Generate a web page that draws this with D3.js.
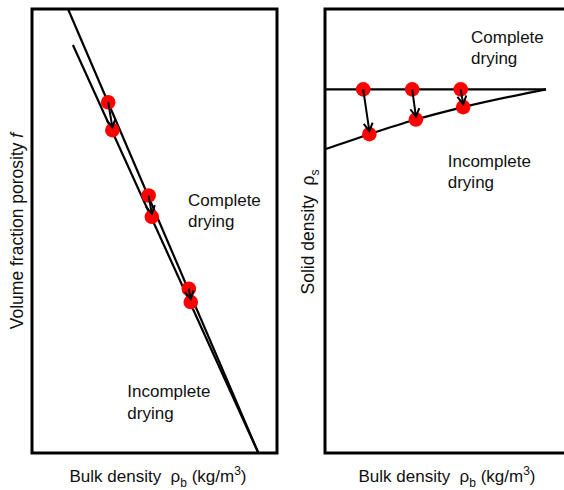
<!DOCTYPE html>
<html>
<head>
<meta charset="utf-8">
<script src="https://cdnjs.cloudflare.com/ajax/libs/d3/7.8.5/d3.min.js"></script>
<style>
  body { margin: 0; background: #fff; }
  text { font-family: "Liberation Sans", Arial, sans-serif; fill: #111; }
</style>
</head>
<body>
<div id="chart"></div>
<script>
// schematic units: 0..1 on both axes of each panel

// left panel: porosity vs bulk density
var leftComplete = [[0.147, 1.0], [0.924, 0]];
var leftIncomplete = [[0.167, 0.919], [0.924, 0]];
var leftStart = [[0.311, 0.790], [0.476, 0.580], [0.640, 0.370]];
var leftEnd = [[0.328, 0.727], [0.489, 0.532], [0.648, 0.340]];

// right panel: solid density vs bulk density
var rightComplete = [[0, 0.819], [0.902, 0.819]];
var rightIncomplete = [[0, 0.684], [0.181, 0.718], [0.371, 0.751], [0.564, 0.779], [0.902, 0.819]];
var rightStart = [[0.156, 0.819], [0.356, 0.819], [0.554, 0.819]];
var rightEnd = [[0.181, 0.718], [0.371, 0.751], [0.564, 0.779]];

var W = 564, H = 490;
var NB = '\u00a0';
var svg = d3.select('#chart').append('svg')
  .attr('width', W)
  .attr('height', H);

svg.append('defs').append('marker')
  .attr('id', 'arrow')
  .attr('markerUnits', 'userSpaceOnUse')
  .attr('viewBox', '-10 -6 12 12')
  .attr('markerWidth', 12)
  .attr('markerHeight', 12)
  .attr('refX', 0)
  .attr('refY', 0)
  .attr('orient', 'auto')
  .append('path')
    .attr('d', 'M-8,-4.5L0,0L-8,4.5')
    .attr('fill', 'none')
    .attr('stroke', '#000')
    .attr('stroke-width', 2);

function drawPanel(opt) {
  var x = d3.scaleLinear().domain([0, 1]).range([opt.left, opt.right]);
  var y = d3.scaleLinear().domain([0, 1]).range([453, 9]);
  var g = svg.append('g');

  var line = d3.line()
    .x(function(d) { return x(d[0]); })
    .y(function(d) { return y(d[1]); })
    .curve(opt.curve || d3.curveLinear);

  opt.lines.forEach(function(l) {
    g.append('path')
      .attr('d', line(l))
      .attr('fill', 'none')
      .attr('stroke', '#000')
      .attr('stroke-width', 2.2);
  });

  // frame
  g.append('rect')
    .attr('x', x(0))
    .attr('y', y(1))
    .attr('width', x(1) - x(0))
    .attr('height', y(0) - y(1))
    .attr('fill', 'none')
    .attr('stroke', '#000')
    .attr('stroke-width', 3);

  var pts = opt.start.concat(opt.end);
  g.selectAll('.dot')
    .data(pts)
    .enter().append('circle')
      .attr('class', 'dot')
      .attr('cx', function(d) { return x(d[0]); })
      .attr('cy', function(d) { return y(d[1]); })
      .attr('r', 7.3)
      .attr('fill', '#ff0000');

  g.selectAll('.arr')
    .data(opt.start)
    .enter().append('line')
      .attr('class', 'arr')
      .attr('x1', function(d) { return x(d[0]); })
      .attr('y1', function(d) { return y(d[1]); })
      .attr('x2', function(d, i) { return x(opt.end[i][0]); })
      .attr('y2', function(d, i) { return y(opt.end[i][1]) - 3; })
      .attr('stroke', '#000')
      .attr('stroke-width', 2)
      .attr('marker-end', 'url(#arrow)');

  opt.notes.forEach(function(n) {
    var t = g.append('text')
      .attr('x', x(n.x))
      .attr('y', y(n.y))
      .attr('font-size', 17);
    n.text.forEach(function(s, i) {
      t.append('tspan')
        .attr('x', x(n.x))
        .attr('dy', i == 0 ? 0 : 21.5)
        .text(s);
    });
  });

  // x label
  var xl = g.append('text')
    .attr('x', opt.xlabelX)
    .attr('y', 482)
    .attr('text-anchor', 'middle')
    .attr('font-size', 17);
  xl.append('tspan').text('Bulk density' + NB + NB + '\u03c1');
  xl.append('tspan').attr('font-size', 12).attr('dy', 5).text('b');
  xl.append('tspan').attr('dy', -5).text(NB + '(kg/m');
  xl.append('tspan').attr('font-size', 12).attr('dy', -7).text('3');
  xl.append('tspan').attr('dy', 7).text(')');

  // y label
  var yl = g.append('text')
    .attr('transform', 'translate(' + opt.ylabelX + ',' + opt.ylabelY + ') rotate(-90)')
    .attr('text-anchor', 'middle')
    .attr('font-size', 17.5);
  opt.ylabel(yl);
}

drawPanel({
  left: 32, right: 277,
  lines: [leftComplete, leftIncomplete],
  start: leftStart, end: leftEnd,
  notes: [
    {text: ['Complete', 'drying'], x: 0.637, y: 0.557},
    {text: ['Incomplete', 'drying'], x: 0.389, y: 0.126}
  ],
  xlabelX: 158,
  ylabelX: 23, ylabelY: 231,
  ylabel: function(t) {
    t.append('tspan').text('Volume fraction porosity' + NB);
    t.append('tspan').attr('font-style', 'italic').text('f');
  }
});

drawPanel({
  left: 325, right: 570,
  lines: [rightComplete, rightIncomplete],
  curve: d3.curveMonotoneX,
  start: rightStart, end: rightEnd,
  notes: [
    {text: ['Complete', 'drying'], x: 0.596, y: 0.924},
    {text: ['Incomplete', 'drying'], x: 0.501, y: 0.645}
  ],
  xlabelX: 447,
  ylabelX: 314, ylabelY: 232,
  ylabel: function(t) {
    t.append('tspan').text('Solid density' + NB + NB + '\u03c1');
    t.append('tspan').attr('font-size', 12).attr('dy', 5).text('s');
  }
});
</script>
</body>
</html>
